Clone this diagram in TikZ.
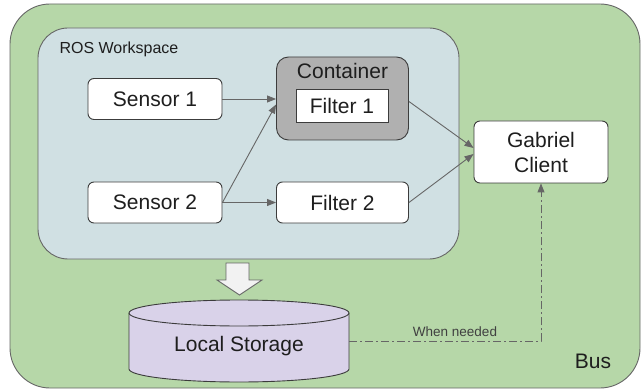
\documentclass[tikz,border=0pt]{standalone}
\usepackage{fontspec}
\setmainfont{Liberation Sans}
\usetikzlibrary{arrows.meta,positioning}
\definecolor{busgreen}{HTML}{B6D7A8}
\definecolor{rosblue}{HTML}{D0E0E3}
\definecolor{contgray}{HTML}{B0B0B0}
\definecolor{lav}{HTML}{D9D2E9}
\definecolor{bordc}{HTML}{3C3C3C}
\definecolor{arrc}{HTML}{666666}
\definecolor{txtc}{HTML}{1E1E1E}
\tikzset{
  big/.style={font=\fontsize{21pt}{24pt}\selectfont, text=txtc},
  whitebox/.style={big, draw=bordc, fill=white, line width=0.9pt, rounded corners=6pt, inner sep=0pt},
  flow/.style={draw=arrc, line width=0.9pt, -{Triangle[length=9pt,width=7pt]}},
}
\begin{document}
\begin{tikzpicture}[x=1pt,y=-1pt]
\useasboundingbox (0,0) rectangle (642,390);
% Bus
\draw[fill=busgreen, draw=arrc, line width=0.9pt, rounded corners=40pt] (10,4) rectangle (640,388);
\node[big] (bus) at (593,361) {Bus};
% ROS workspace
\draw[fill=rosblue, draw=arrc, line width=0.9pt, rounded corners=30pt] (38,28) rectangle (459,259);
\node[font=\fontsize{16pt}{19pt}\selectfont, text=txtc, anchor=west] (ros) at (56,49) {ROS Workspace};
% nodes
\node[whitebox, minimum width=134pt, minimum height=41pt] (s1) at (155,99) {Sensor 1};
\node[whitebox, minimum width=134pt, minimum height=41pt] (s2) at (155,202.5) {Sensor 2};
\node[whitebox, fill=contgray, rounded corners=12pt, minimum width=132pt, minimum height=83pt] (cont) at (342.5,98.5) {};
\node[big] (contlbl) at (342.5,71) {Container};
\node[big, draw=bordc, fill=white, line width=0.9pt, inner sep=0pt, minimum width=92pt, minimum height=33pt] (f1) at (342,106) {Filter 1};
\node[whitebox, minimum width=132pt, minimum height=41pt] (f2) at (342.5,202.5) {Filter 2};
\node[whitebox, align=center, minimum width=134pt, minimum height=62pt, font=\fontsize{21pt}{25pt}\selectfont] (gab) at (541,152) {Gabriel\\Client};
% big arrow
\draw[fill=white!95!black, draw=arrc, line width=0.9pt, line join=miter]
  (226,263) -- (249,263) -- (249,280) -- (262,280) -- (239.5,295) -- (217,280) -- (226,280) -- cycle;
% cylinder
\path[fill=lav, draw=bordc, line width=0.9pt]
  (129,313) -- (129,369) arc[start angle=180, end angle=0, x radius=110, y radius=13]
  -- (349,313) arc[start angle=0, end angle=-180, x radius=110, y radius=13] -- cycle;
\draw[draw=bordc, line width=0.9pt] (129,313) arc[start angle=180, end angle=0, x radius=110, y radius=13];
\node[big, minimum width=220pt, minimum height=56pt, inner sep=0pt] (st) at (239,346) {Local Storage};
\coordinate (stE) at (349,341);
% arrows
\draw[flow] (s1.east) -- (s1.east -| cont.west);
\draw[flow] (s2.east) -- ([yshift=-6pt]cont.west);
\draw[flow] (s2.east) -- (f2.west);
\draw[flow] ([yshift=-3pt]cont.east) -- ([yshift=4pt]gab.west);
\draw[flow] (f2.east) -- ([yshift=-2pt]gab.west);
\draw[flow, dash pattern=on 8pt off 3pt on 2pt off 3pt] (stE) -- (gab.south |- stE) -- (gab.south);
\node[font=\fontsize{13.5pt}{16pt}\selectfont, text=txtc!85!white] (when) at (455,332) {When needed};
\end{tikzpicture}
\end{document}
